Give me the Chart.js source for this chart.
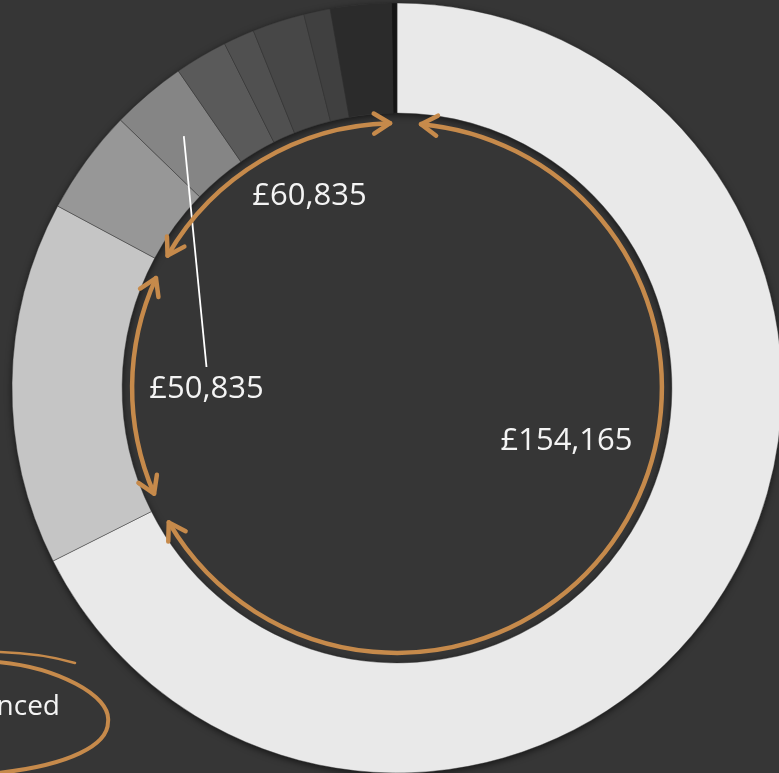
<!DOCTYPE html>
<html>
<head>
<meta charset="utf-8">
<script src="https://cdn.jsdelivr.net/npm/chart.js@4.4.1/dist/chart.umd.min.js"></script>
<style>
  html, body { margin: 0; padding: 0; background: #363636; overflow: hidden; }
  #wrap { position: absolute; left: 0; top: 0; width: 794px; height: 776px; }
</style>
</head>
<body>
<div id="wrap"><canvas id="ring" width="794" height="776"></canvas></div>
<script>
// ring segments, read clockwise from 12 o'clock (share of the full circle, in degrees)
let segmentNames = ["A", "B", "C", "D", "E", "F", "G", "H", "I", "J"];
let segmentShares = [243.3, 54.9, 15.9, 11.3, 8.0, 4.7, 7.9, 4.0, 9.2, 0.8];
let segmentColors = ["#e9e9e9", "#c5c5c5", "#979797", "#858585", "#5a5a5a",
                     "#505050", "#474747", "#404040", "#2b2b2b", "#151515"];

// bracket arrows drawn inside the hole (start / end angle, clockwise from top)
let bracketLabels = ["£154,165", "£50,835", "£60,835"];
let bracketFrom = [5.2, 246.5, 300.0];
let bracketTo = [239.5, 294.5, 358.5];
// label offsets from the ring centre
let labelDx = [169.5, -190.5, -87.5];
let labelDy = [62, 10, -183];

let orange = "#c68a4b";

function deg(a) {
  return (a - 90) * Math.PI / 180;
}

function arrowHead(ctx, cx, cy, r, a, dir) {
  let t = a * Math.PI / 180;
  let px = cx + r * Math.sin(t);
  let py = cy - r * Math.cos(t);
  let dx = dir * Math.cos(t);
  let dy = dir * Math.sin(t);
  let len = 19, phi = 32 * Math.PI / 180;
  ctx.beginPath();
  for (let s of [1, -1]) {
    let bx = -dx, by = -dy;
    let wx = bx * Math.cos(s * phi) - by * Math.sin(s * phi);
    let wy = bx * Math.sin(s * phi) + by * Math.cos(s * phi);
    ctx.moveTo(px, py);
    ctx.lineTo(px + wx * len, py + wy * len);
  }
  ctx.stroke();
}

let ringShadow = {
  id: "ringShadow",
  beforeDatasetsDraw(chart) {
    let arc = chart.getDatasetMeta(0).data[0];
    let ctx = chart.ctx;
    ctx.save();
    ctx.beginPath();
    ctx.arc(arc.x, arc.y, arc.outerRadius, 0, Math.PI * 2);
    ctx.arc(arc.x, arc.y, arc.innerRadius, 0, Math.PI * 2, true);
    ctx.fillStyle = "#444";
    ctx.shadowColor = "rgba(0,0,0,0.6)";
    ctx.shadowBlur = 7;
    ctx.shadowOffsetY = 2;
    ctx.fill();
    ctx.restore();
  }
};

let annotations = {
  id: "annotations",
  afterDatasetsDraw(chart) {
    let meta = chart.getDatasetMeta(0);
    let arc = meta.data[0];
    let cx = arc.x, cy = arc.y;
    let r = arc.innerRadius - 10;
    let ctx = chart.ctx;
    ctx.save();

    // leader line from the 4th segment down to the £50,835 label
    let tip = meta.data[3].tooltipPosition();
    ctx.strokeStyle = "#ffffff";
    ctx.lineWidth = 1.8;
    ctx.beginPath();
    ctx.moveTo(tip.x, tip.y);
    ctx.lineTo(cx + labelDx[1], cy + labelDy[1] - 31);
    ctx.stroke();

    // orange brackets
    ctx.strokeStyle = orange;
    ctx.lineWidth = 4.5;
    ctx.lineCap = "round";
    ctx.lineJoin = "round";
    for (let i = 0; i < bracketLabels.length; i++) {
      ctx.beginPath();
      ctx.arc(cx, cy, r, deg(bracketFrom[i]), deg(bracketTo[i]));
      ctx.stroke();
      arrowHead(ctx, cx, cy, r, bracketFrom[i], -1);
      arrowHead(ctx, cx, cy, r, bracketTo[i], 1);
    }

    // labels
    ctx.fillStyle = "#f4f4f4";
    ctx.font = "31px 'Open Sans'";
    ctx.textAlign = "center";
    ctx.textBaseline = "alphabetic";
    for (let i = 0; i < bracketLabels.length; i++) {
      ctx.fillText(bracketLabels[i], cx + labelDx[i], cy + labelDy[i]);
    }

    // cut-off legend entry, bottom left
    ctx.font = "28px 'Open Sans'";
    ctx.textAlign = "right";
    ctx.fillText("Financed", 60, 715);

    ctx.strokeStyle = orange;
    ctx.lineWidth = 2.5;
    ctx.beginPath();
    ctx.moveTo(-2, 652);
    ctx.quadraticCurveTo(40, 653, 75, 663);
    ctx.stroke();
    ctx.lineWidth = 4;
    ctx.beginPath();
    ctx.moveTo(-2, 662);
    ctx.bezierCurveTo(55, 667, 112, 695, 108, 722);
    ctx.bezierCurveTo(108, 745, 70, 765, -2, 773);
    ctx.stroke();

    ctx.restore();
  }
};

new Chart(document.getElementById("ring"), {
  type: "doughnut",
  data: {
    labels: segmentNames,
    datasets: [{
      data: segmentShares,
      backgroundColor: segmentColors,
      borderColor: "rgba(45,45,45,0.55)",
      borderWidth: 0.8,
      hoverOffset: 0
    }]
  },
  options: {
    responsive: false,
    maintainAspectRatio: false,
    devicePixelRatio: 1,
    animation: false,
    radius: 385,
    cutout: "71.4%",
    layout: { padding: 0 },
    plugins: {
      legend: { display: false },
      tooltip: { enabled: false }
    }
  },
  plugins: [ringShadow, annotations]
});
</script>
</body>
</html>
